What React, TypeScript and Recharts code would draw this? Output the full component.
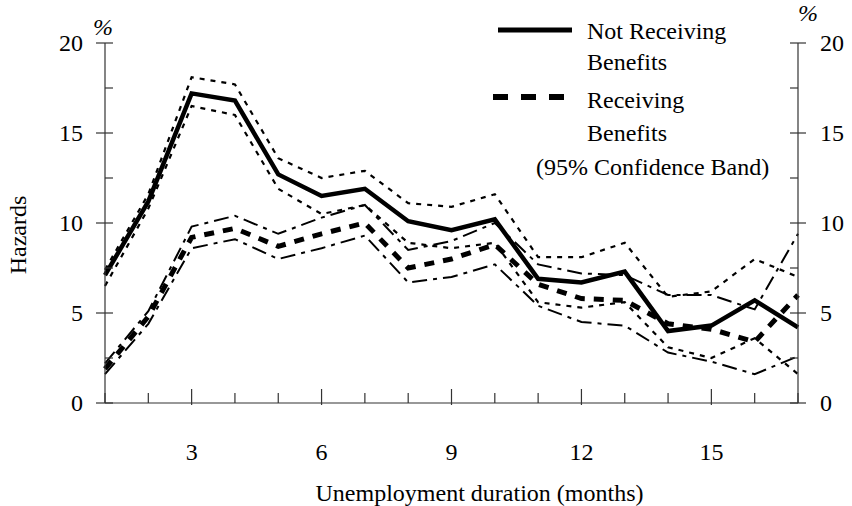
import { LineChart, Line, XAxis, YAxis, Legend } from 'recharts';

const FONT = '"Liberation Serif", "Times New Roman", serif';
const FS = 24;
const AXIS = '#333';

const MONTHS = [1, 2, 3, 4, 5, 6, 7, 8, 9, 10, 11, 12, 13, 14, 15, 16, 17];
const X_LABELS = [3, 6, 9, 12, 15];
const Y_TICKS = [0, 2.5, 5, 7.5, 10, 12.5, 15, 17.5, 20];
const Y_LABELS = [0, 5, 10, 15, 20];

// hazards, %
const NOT_RECEIVING = [7.1, 11.2, 17.2, 16.8, 12.7, 11.5, 11.9, 10.1, 9.6, 10.2, 6.9, 6.7, 7.3, 4.0, 4.3, 5.7, 4.2];
const NOT_RECEIVING_HI = [7.4, 11.6, 18.1, 17.7, 13.6, 12.5, 12.9, 11.1, 10.9, 11.6, 8.1, 8.1, 8.9, 5.9, 6.2, 8.0, 7.0];
const NOT_RECEIVING_LO = [6.5, 10.8, 16.5, 16.0, 11.9, 10.5, 11.0, 8.9, 8.6, 8.9, 5.6, 5.3, 5.6, 3.1, 2.5, 3.6, 1.6];
const RECEIVING = [1.9, 4.8, 9.2, 9.7, 8.7, 9.4, 10.0, 7.5, 8.0, 8.8, 6.6, 5.8, 5.7, 4.4, 4.1, 3.4, 6.0];
const RECEIVING_HI = [2.2, 5.1, 9.8, 10.4, 9.4, 10.3, 11.0, 8.5, 9.0, 10.0, 7.7, 7.2, 7.1, 6.0, 6.0, 5.2, 9.4];
const RECEIVING_LO = [1.6, 4.4, 8.6, 9.1, 8.0, 8.6, 9.3, 6.7, 7.0, 7.7, 5.4, 4.5, 4.3, 2.8, 2.3, 1.6, 2.6];

const data = MONTHS.map((m, i) => ({
  month: m,
  nr: NOT_RECEIVING[i],
  nrHi: NOT_RECEIVING_HI[i],
  nrLo: NOT_RECEIVING_LO[i],
  r: RECEIVING[i],
  rHi: RECEIVING_HI[i],
  rLo: RECEIVING_LO[i],
}));

const XTick = ({ x, y, payload }: any) => {
  const major = X_LABELS.includes(payload.value);
  return (
    <g>
      <line x1={x} x2={x} y1={y + (major ? 2 : 0)} y2={y - (major ? 14 : 10)} stroke={AXIS} strokeWidth={1.2} />
      {major && (
        <text x={x} y={y + 57} textAnchor="middle" fontFamily={FONT} fontSize={FS} fill="#000">
          {payload.value}
        </text>
      )}
    </g>
  );
};

const LeftTick = ({ x, y, payload }: any) => {
  const major = Y_LABELS.includes(payload.value);
  return (
    <g>
      <line x1={major ? x - 9 : x} x2={x + 8} y1={y} y2={y} stroke={AXIS} strokeWidth={1.2} />
      {major && (
        <text x={x - 22} y={y + 8} textAnchor="end" fontFamily={FONT} fontSize={FS} fill="#000">
          {payload.value}
        </text>
      )}
    </g>
  );
};

const RightTick = ({ x, y, payload }: any) => {
  const major = Y_LABELS.includes(payload.value);
  return (
    <g>
      <line x1={x - 8} x2={major ? x + 8 : x} y1={y} y2={y} stroke={AXIS} strokeWidth={1.2} />
      {major && (
        <text x={x + 22} y={y + 8} textAnchor="start" fontFamily={FONT} fontSize={FS} fill="#000">
          {payload.value}
        </text>
      )}
    </g>
  );
};

const LeftLabel = ({ viewBox }: any) => {
  const { x, y, width, height } = viewBox;
  const cy = y + height / 2 + 12;
  return (
    <g fontFamily={FONT} fontSize={FS} fill="#000">
      <text x={x + width - 2} y={y - 8} textAnchor="middle" fontStyle="italic">%</text>
      <text x={18} y={cy} transform={`rotate(-90 18 ${cy})`} textAnchor="middle" dy={8}>
        Hazards
      </text>
    </g>
  );
};

const RightLabel = ({ viewBox }: any) => {
  const { x, y } = viewBox;
  return (
    <text x={x + 10} y={y - 22} textAnchor="middle" fontStyle="italic" fontFamily={FONT} fontSize={FS} fill="#000">
      %
    </text>
  );
};

const XLabel = ({ viewBox }: any) => {
  const { x, y, width } = viewBox;
  return (
    <text x={x + width / 2 + 28} y={y + 98} textAnchor="middle" fontFamily={FONT} fontSize={FS} fill="#000">
      Unemployment duration (months)
    </text>
  );
};

const LegendBox = () => (
  <svg width={852} height={200} style={{ display: 'block' }}>
    <g fontFamily={FONT} fontSize={FS} fill="#000">
      <line x1={498} x2={572} y1={30} y2={30} stroke="#000" strokeWidth={5} />
      <text x={587} y={39}>Not Receiving</text>
      <text x={587} y={70}>Benefits</text>
      <line x1={493} x2={566} y1={97} y2={97} stroke="#000" strokeWidth={6} strokeDasharray="15 13" />
      <text x={587} y={108}>Receiving</text>
      <text x={587} y={141}>Benefits</text>
      <text x={536} y={175}>(95% Confidence Band)</text>
    </g>
  </svg>
);

export default function App() {
  return (
    <div style={{ position: 'absolute', left: 0, top: 0, width: 852, height: 506, background: '#fff' }}>
      <LineChart width={852} height={506} data={data} margin={{ top: 43, right: 4, left: 45, bottom: 23 }}>
        <XAxis
          dataKey="month"
          type="number"
          domain={[1, 17]}
          ticks={MONTHS}
          interval={0}
          height={80}
          tickSize={0}
          tickMargin={0}
          tickLine={false}
          axisLine={{ stroke: AXIS, strokeWidth: 1.2 }}
          tick={<XTick />}
          label={<XLabel />}
        />
        <YAxis
          yAxisId="left"
          type="number"
          domain={[0, 20]}
          ticks={Y_TICKS}
          interval={0}
          width={60}
          tickSize={0}
          tickMargin={0}
          tickLine={false}
          axisLine={{ stroke: AXIS, strokeWidth: 1.2 }}
          tick={<LeftTick />}
          label={<LeftLabel />}
        />
        <YAxis
          yAxisId="right"
          orientation="right"
          type="number"
          domain={[0, 20]}
          ticks={Y_TICKS}
          interval={0}
          width={50}
          tickSize={0}
          tickMargin={0}
          tickLine={false}
          axisLine={{ stroke: AXIS, strokeWidth: 1.2 }}
          tick={<RightTick />}
          label={<RightLabel />}
        />
        <Legend
          verticalAlign="middle"
          align="center"
          content={<LegendBox />}
          wrapperStyle={{ left: 0, top: 0, width: 852, height: 200, pointerEvents: 'none' }}
        />
        <Line yAxisId="left" dataKey="nrHi" stroke="#000" strokeWidth={2.2} strokeDasharray="5 6" dot={false} isAnimationActive={false} legendType="none" />
        <Line yAxisId="left" dataKey="nrLo" stroke="#000" strokeWidth={2.2} strokeDasharray="5 6" dot={false} isAnimationActive={false} legendType="none" />
        <Line yAxisId="right" dataKey="rHi" stroke="#000" strokeWidth={2} strokeDasharray="15 6 4 6" dot={false} isAnimationActive={false} legendType="none" />
        <Line yAxisId="right" dataKey="rLo" stroke="#000" strokeWidth={2} strokeDasharray="15 6 4 6" dot={false} isAnimationActive={false} legendType="none" />
        <Line yAxisId="left" dataKey="r" stroke="#000" strokeWidth={5} strokeDasharray="10 9" dot={false} isAnimationActive={false} />
        <Line yAxisId="left" dataKey="nr" stroke="#000" strokeWidth={4.5} dot={false} isAnimationActive={false} />
      </LineChart>
    </div>
  );
}
